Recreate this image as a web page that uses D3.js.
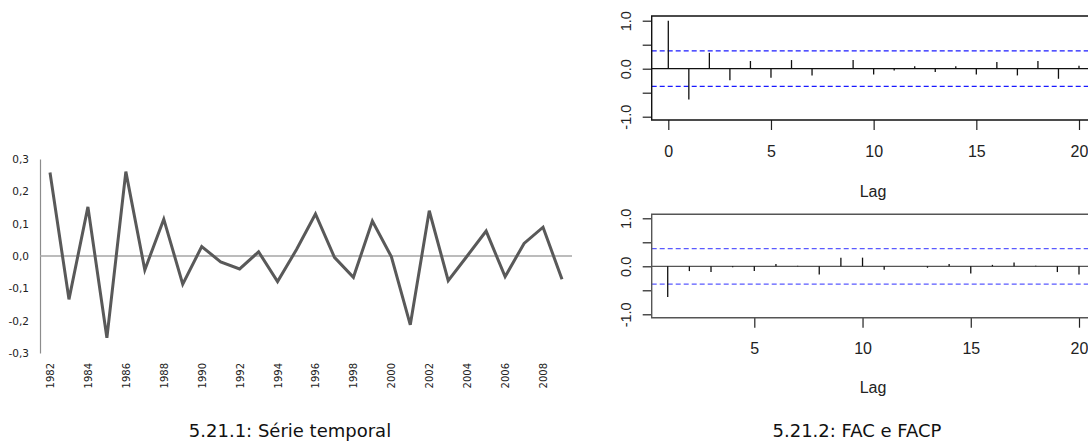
<!DOCTYPE html>
<html>
<head>
<meta charset="utf-8">
<script src="https://cdn.jsdelivr.net/npm/d3@7"></script>
<style>
  body { margin: 0; background: #fff; }
  svg { display: block; }
</style>
</head>
<body>
<svg width="1088" height="442"></svg>
<script>
// serie temporal (1982..2009)
var years = d3.range(1982, 2010);
var serie = [0.258, -0.134, 0.152, -0.253, 0.261, -0.043, 0.114, -0.087, 0.029, -0.018,
  -0.040, 0.013, -0.079, 0.020, 0.130, -0.004, -0.066, 0.108, -0.002, -0.213,
  0.140, -0.076, 0.000, 0.077, -0.064, 0.039, 0.089, -0.072];
var serieTicks = [-0.3, -0.2, -0.1, 0, 0.1, 0.2, 0.3];
var yearTicks = d3.range(1982, 2010, 2);

// FAC (lag 0..20) e FACP (lag 1..20)
var facLags = d3.range(0, 21);
var fac = [1.0, -0.64, 0.33, -0.24, 0.16, -0.19, 0.18, -0.14, 0.0, 0.18, -0.12,
  -0.04, 0.05, -0.07, 0.05, -0.12, 0.14, -0.14, 0.16, -0.21, 0.06];
var facpLags = d3.range(1, 21);
var facp = [-0.64, -0.10, -0.12, -0.02, -0.10, 0.05, 0.01, -0.17, 0.18, 0.18,
  -0.07, 0.0, -0.03, 0.05, -0.15, 0.03, 0.08, 0.01, -0.12, -0.17];
var limite = 0.37;
var captions = ["5.21.1: Série temporal", "5.21.2: FAC e FACP"];

var svg = d3.select("svg");
var fmtComma = (d) => d3.format(".1f")(d).replace(".", ",").replace("−", "-");

/* ---- left: time series ---- */
var xScale = d3.scaleLinear().domain([1982, 2009]).range([50, 562]);
var yScale = d3.scaleLinear().domain([-0.3, 0.3]).range([353, 159]);

var yAxis = d3.axisLeft(yScale).tickValues(serieTicks).tickFormat(fmtComma)
  .tickSize(0).tickPadding(11);
var gy = svg.append("g").attr("transform", "translate(40,0)").call(yAxis);
gy.select(".domain").attr("stroke", "#8c8c8c").attr("stroke-width", 1.2);
gy.selectAll("text").attr("font-family", "DejaVu Sans, sans-serif")
  .attr("font-size", 10.5).attr("fill", "#222");

svg.append("line")
  .attr("x1", 40).attr("x2", 572)
  .attr("y1", yScale(0)).attr("y2", yScale(0))
  .attr("stroke", "#a6a6a6").attr("stroke-width", 1.5);

var xAxis = d3.axisBottom(xScale).tickValues(yearTicks).tickFormat(d3.format("d")).tickSize(0);
var gx = svg.append("g").attr("transform", "translate(0,363)").call(xAxis);
gx.select(".domain").remove();
gx.selectAll("text")
  .attr("font-family", "DejaVu Sans, sans-serif")
  .attr("font-size", 10).attr("fill", "#222")
  .attr("transform", "rotate(-90)")
  .attr("x", 0).attr("y", 0).attr("dy", "0.35em")
  .attr("text-anchor", "end");

var line = d3.line().x((d, i) => xScale(years[i])).y((d) => yScale(d));
svg.append("path").datum(serie)
  .attr("d", line).attr("fill", "none")
  .attr("stroke", "#595959").attr("stroke-width", 3)
  .attr("stroke-linejoin", "miter");

/* ---- right: correlograms ---- */
var correlogram = (opt) => {
  var x = d3.scaleLinear().domain(opt.xdom).range(opt.xrange);
  var y = d3.scaleLinear().domain([-1, 1]).range(opt.yrange);
  var g = svg.append("g");
  var box = opt.box; // [left, top, bottom]

  // y axis
  var ya = d3.axisLeft(y).tickValues([-1, -0.5, 0, 0.5, 1]).tickSize(9)
    .tickFormat((d) => (d === 0 || Math.abs(d) === 1) ? d3.format(".1f")(d).replace("−", "-") : "");
  var gya = g.append("g").attr("transform", "translate(" + box[0] + ",0)").call(ya);
  gya.select(".domain").remove();
  gya.selectAll("line").attr("stroke", "#222").attr("stroke-width", 1.2);
  gya.selectAll("text")
    .attr("font-family", "Liberation Sans, Arial, sans-serif").attr("font-size", 14.5)
    .attr("fill", "#222").attr("text-anchor", "middle")
    .attr("transform", "rotate(-90)")
    .attr("x", 0).attr("y", -21).attr("dy", 0);

  // x axis
  var xa = d3.axisBottom(x).tickValues(opt.xticks).tickSize(10).tickPadding(opt.pad);
  var gxa = g.append("g").attr("transform", "translate(0," + box[2] + ")").call(xa);
  gxa.select(".domain").remove();
  gxa.selectAll("line").attr("stroke", "#222").attr("stroke-width", 1.2);
  gxa.selectAll("text")
    .attr("font-family", "Liberation Sans, Arial, sans-serif").attr("font-size", 16)
    .attr("fill", "#222");

  g.append("text").text("Lag")
    .attr("x", 873).attr("y", opt.lagY)
    .attr("text-anchor", "middle")
    .attr("font-family", "Liberation Sans, Arial, sans-serif").attr("font-size", 16)
    .attr("fill", "#222");

  // confidence bounds
  [limite, -limite].forEach((v) => {
    g.append("line")
      .attr("x1", box[0]).attr("x2", 1088)
      .attr("y1", y(v)).attr("y2", y(v))
      .attr("stroke", opt.blue).attr("stroke-width", 1.3)
      .attr("stroke-dasharray", "5,3");
  });

  // zero line
  g.append("line")
    .attr("x1", box[0]).attr("x2", 1088)
    .attr("y1", y(0)).attr("y2", y(0))
    .attr("stroke", opt.frame).attr("stroke-width", 1.2);

  // spikes
  g.selectAll(".spike").data(opt.values).enter().append("line")
    .attr("class", "spike")
    .attr("x1", (d, i) => x(opt.lags[i])).attr("x2", (d, i) => x(opt.lags[i]))
    .attr("y1", y(0)).attr("y2", (d) => y(d))
    .attr("stroke", "#111").attr("stroke-width", 1.3);

  // frame
  g.append("path")
    .attr("d", "M1090," + box[1] + "H" + box[0] + "V" + box[2] + "H1090")
    .attr("fill", "none").attr("stroke", opt.frame).attr("stroke-width", 1.4);
};

correlogram({
  values: fac, lags: facLags,
  xdom: [0, 20], xrange: [668.3, 1079], xticks: [0, 5, 10, 15, 20],
  yrange: [116.7, 20.7], box: [651.7, 16, 120], pad: 16,
  lagY: 197, blue: "#1a1aff", frame: "#111"
});
correlogram({
  values: facp, lags: facpLags,
  xdom: [5, 20], xrange: [754.3, 1079], xticks: [5, 10, 15, 20],
  yrange: [314.3, 218.3], box: [651.7, 214.3, 317.7], pad: 15,
  lagY: 393, blue: "#5a5aff", frame: "#555"
});

/* ---- captions ---- */
svg.selectAll(".caption").data(captions).enter().append("text")
  .attr("class", "caption")
  .attr("x", (d, i) => [290, 857][i]).attr("y", 437)
  .attr("text-anchor", "middle")
  .attr("font-family", "DejaVu Sans, sans-serif").attr("font-size", 18)
  .attr("fill", "#111")
  .text((d) => d);
</script>
</body>
</html>
